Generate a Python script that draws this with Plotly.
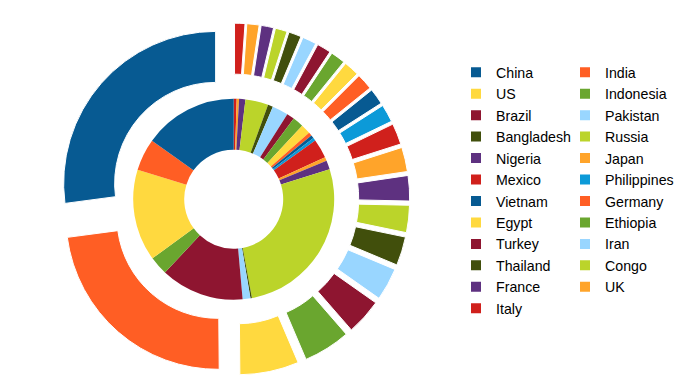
import plotly.graph_objects as go

countries = ["China", "India", "US", "Indonesia", "Brazil", "Pakistan", "Bangladesh",
             "Russia", "Nigeria", "Japan", "Mexico", "Philippines", "Vietnam", "Germany",
             "Egypt", "Ethiopia", "Turkey", "Iran", "Thailand", "Congo", "France", "UK", "Italy"]

# outer ring: population (millions)
population = [1330, 1130, 308, 245, 188, 170, 150, 142, 132, 127, 110, 93, 84, 85,
              80, 76, 73, 73, 66, 62, 65, 64, 54]

# inner ring: area (thousand km²)
area = [9597, 3287, 9372, 1905, 8516, 796, 148, 17098, 924, 378, 1964, 300, 331, 357,
        1002, 1104, 784, 1648, 513, 2345, 644, 243, 301]

palette = ["#075A92", "#FF5E24", "#FFD93F", "#6AA62F", "#8E1530", "#99D6FF",
           "#414F0C", "#BBD42A", "#5E3180", "#FFA42A", "#D0201C", "#0C9AD8"]
colors = [palette[i % len(palette)] for i in range(len(countries))]

# the page adds an 8px body margin, so the figure is 8px smaller and offsets are shifted
W, H = 681, 374
OFF = 8
cx, cy = 233.7 - OFF, 199.2 - OFF      # ring centre in figure px (from top-left)
r_out, pull = 152.0, 0.158
half_outer = r_out * (1 + pull)
r_inner = 100.5


def dom(half):
    return dict(x=[(cx - half) / W, (cx + half) / W],
                y=[(H - cy - half) / H, (H - cy + half) / H])


# the rings run counter-clockwise from 12 o'clock (China first), which is the same
# as running the reversed series clockwise from 12 o'clock
rev_labels = countries[::-1]
rev_colors = colors[::-1]

fig = go.Figure()

fig.add_trace(go.Pie(
    labels=rev_labels, values=population[::-1], sort=False, direction="clockwise",
    rotation=0, hole=101.0 / r_out, pull=[pull] * len(countries),
    marker=dict(colors=rev_colors, line=dict(color="white", width=1)),
    textinfo="none", hoverinfo="label+value", showlegend=False,
    domain=dom(half_outer)))

fig.add_trace(go.Pie(
    labels=rev_labels, values=area[::-1], sort=False, direction="clockwise",
    rotation=0, hole=49.5 / r_inner,
    marker=dict(colors=rev_colors, line=dict(width=0)),
    textinfo="none", hoverinfo="label+value", showlegend=False,
    domain=dom(r_inner)))

# legend entries (two columns, row-wise order)
for i, (name, col) in enumerate(zip(countries, colors)):
    fig.add_trace(go.Scatter(
        x=[None], y=[None], mode="markers", name=name,
        marker=dict(symbol="square", size=10, color=col),
        legendgroup="col1" if i % 2 == 0 else "col2", showlegend=True))

fig.update_layout(
    width=W, height=H,
    margin=dict(l=0, r=0, t=0, b=0),
    paper_bgcolor="white", plot_bgcolor="white",
    xaxis=dict(visible=False), yaxis=dict(visible=False),
    legend=dict(
        orientation="h", traceorder="grouped",
        x=448 / W, xanchor="left", y=1 - 48.5 / H, yanchor="top",
        entrywidth=64, entrywidthmode="pixels", maxheight=1,
        font=dict(family="Liberation Sans, Arial, sans-serif", size=14.2, color="#000000"),
        bgcolor="rgba(0,0,0,0)", itemclick=False, itemdoubleclick=False),
)

fig.write_html("out.html")
